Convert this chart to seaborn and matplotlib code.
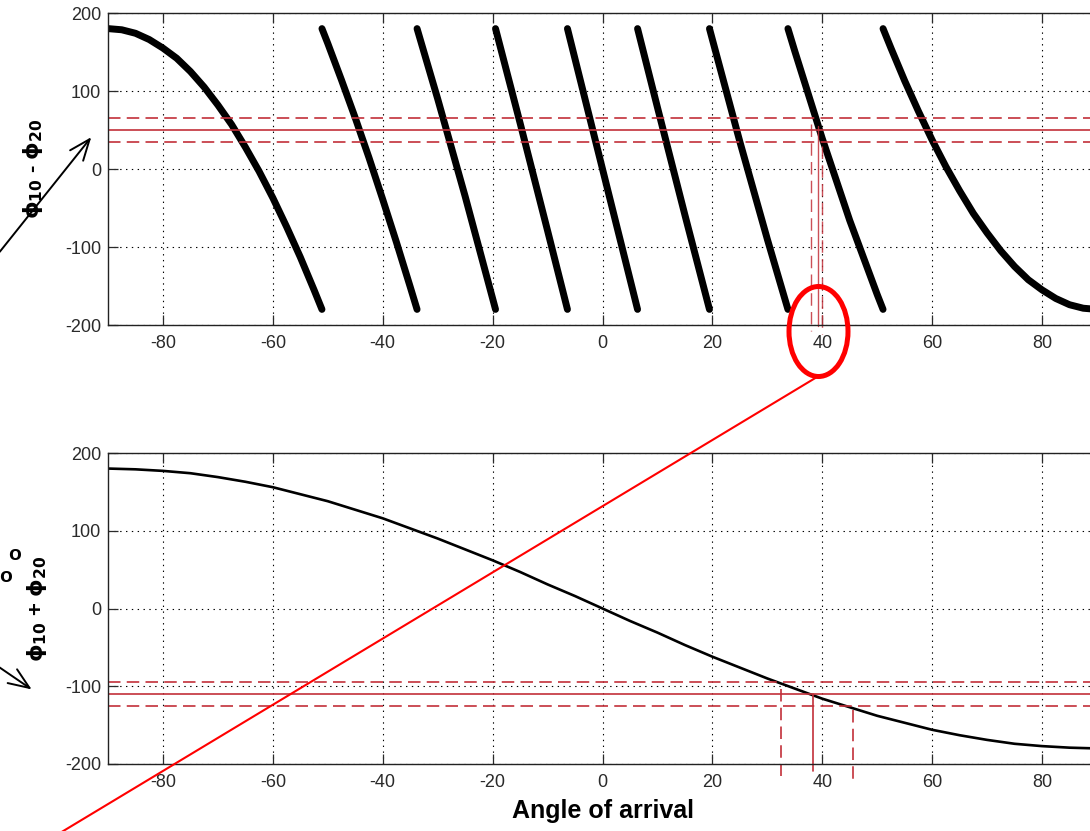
import numpy as np
import pandas as pd
import matplotlib
matplotlib.use("Agg")
import matplotlib.pyplot as plt
from matplotlib.patches import Ellipse, FancyArrowPatch
from matplotlib.lines import Line2D
import seaborn as sns

# ---- data -------------------------------------------------------------
# wrapped phase difference, one branch per 360-degree wrap
diff_angle = [-90, -87.5, -85, -82.5, -80, -77.5, -75, -72.5, -70, -67.5, -65, -62.5,
              -60, -57.5, -55, -52.5, -51.06,
              -51.06, -50, -47.5, -45, -42.5, -40, -37.5, -35, -33.75,
              -33.75, -30, -25, -20, -19.47,
              -19.47, -15, -10, -6.38,
              -6.38, 0, 6.38,
              6.38, 10, 15, 19.47,
              19.47, 20, 25, 30, 33.75,
              33.75, 35, 40, 45, 50, 51.06,
              51.06, 52.5, 55, 57.5, 60, 62.5, 65, 67.5, 70, 72.5, 75, 77.5,
              80, 82.5, 85, 87.5, 90]
diff_phase = [180, 178.5, 174, 166, 155, 142, 125, 105, 82, 57, 28, -3,
              -37, -74, -113, -155, -180,
              180, 161, 114, 65.5, 14.5, -39, -94, -151, -180,
              180, 90, -35, -166, -180,
              180, 59, -79, -180,
              180, 0, -180,
              180, 79, -59, -180,
              180, 166, 35, -90, -180,
              180, 151, 39, -66, -161, -180,
              180, 155, 113, 74, 37, 3, -28, -57, -82, -105, -125, -142,
              -155, -166, -174, -178.5, -180]
diff_branch = ([0] * 17 + [1] * 9 + [2] * 5 + [3] * 4 + [4] * 3 + [5] * 4 +
               [6] * 5 + [7] * 6 + [8] * 17)

# phase sum
sum_angle = list(range(-90, 91, 5))
sum_phase = [180, 179, 177, 174, 169, 163, 156, 147, 138, 127, 116, 103, 90, 76,
             62, 47, 31, 16, 0, -16, -31, -47, -62, -76, -90, -103, -116, -127,
             -138, -147, -156, -163, -169, -174, -177, -179, -180]

# measured phase levels (centre and +/- tolerance) and resulting angle bounds
diff_levels = [65, 50, 35]
diff_cross_angle = [37.9, 39.2, 40.0]
diff_cross_top = [58, 55, 30]
diff_cross_bottom = [-208, -201, -212]

sum_levels = [-95, -110, -125]
sum_cross_angle = [32.4, 38.3, 45.6]
sum_cross_top = [-103, -110, -131]
sum_cross_bottom = [-215, -209, -221]

x_ticks = [-80, -60, -40, -20, 0, 20, 40, 60, 80]
y_ticks = [-200, -100, 0, 100, 200]

# ---- style ------------------------------------------------------------
sns.set_theme(style="white")
plt.rcParams["font.family"] = ["Liberation Sans", "DejaVu Sans"]
plt.rcParams["mathtext.fontset"] = "dejavusans"
plt.rcParams["lines.scale_dashes"] = False
plt.rcParams["axes.unicode_minus"] = False

W, H = 1090, 831
fig = plt.figure(figsize=(W / 100, H / 100), dpi=100)
fig.patch.set_facecolor("white")


def fpos(x, y):
    return (x / W, 1 - y / H)


red = "#c2303a"
dash = (0, (9, 4.5))

ax_top = fig.add_axes([108 / W, 1 - 325 / H, 989 / W, 312 / H])
ax_bot = fig.add_axes([108 / W, 1 - 764 / H, 989 / W, 311 / H])

for ax in (ax_top, ax_bot):
    ax.set_xlim(-90, 90)
    ax.set_ylim(-200, 200)
    ax.set_xticks(x_ticks)
    ax.set_yticks(y_ticks)
    ax.grid(True, color="black", linestyle=(0, (1, 3.2)), linewidth=0.8)
    ax.set_axisbelow(True)
    ax.tick_params(direction="in", length=7, width=0.9, colors="#2a2a2a",
                   labelsize=13, top=True, bottom=True, left=True, right=False)
    ax.tick_params(axis="x", pad=7)
    ax.tick_params(axis="y", pad=5)
    for side, sp in ax.spines.items():
        sp.set_color("#222222")
        sp.set_linewidth(1.0)
        sp.set_visible(side != "right")
    ax.set_facecolor("white")

# top: wrapped phase difference
df_diff = pd.DataFrame({"angle": diff_angle, "phase": diff_phase, "branch": diff_branch})
sns.lineplot(data=df_diff, x="angle", y="phase", units="branch", estimator=None,
             color="black", linewidth=5, sort=False, ax=ax_top, legend=False)

for lvl, ls in zip(diff_levels, [dash, "-", dash]):
    ax_top.axhline(lvl, color=red, linewidth=1.2, linestyle=ls)
for xa, y0, y1, ls in zip(diff_cross_angle, diff_cross_top, diff_cross_bottom,
                          [dash, "-", dash]):
    ax_top.plot([xa, xa], [y0, y1], color=red, linewidth=1.0, linestyle=ls,
                clip_on=False, alpha=0.85)

# bottom: phase sum
df_sum = pd.DataFrame({"angle": sum_angle, "phase": sum_phase})
sns.lineplot(data=df_sum, x="angle", y="phase", color="black", linewidth=1.9,
             ax=ax_bot, legend=False)

for lvl, ls in zip(sum_levels, [dash, "-", dash]):
    ax_bot.axhline(lvl, color=red, linewidth=1.2, linestyle=ls)
for xa, y0, y1, ls in zip(sum_cross_angle, sum_cross_top, sum_cross_bottom,
                          [dash, "-", dash]):
    ax_bot.plot([xa, xa], [y0, y1], color=red, linewidth=1.2, linestyle=ls,
                clip_on=False)

# axis labels
ax_top.set_xlabel("")
ax_bot.set_xlabel("Angle of arrival", fontsize=18, fontweight="bold", color="black",
                  labelpad=6)
ax_top.set_ylabel(r"$\mathbf{\phi_{10}}$ - $\mathbf{\phi_{20}}$", fontsize=16,
                  fontweight="bold", color="black")
ax_bot.set_ylabel(r"$\mathbf{\phi_{10}}$ + $\mathbf{\phi_{20}}$", fontsize=16,
                  fontweight="bold", color="black")
for ax, xc in ((ax_top, 33), (ax_bot, 37)):
    ax.yaxis.set_label_coords((xc - 108) / 989, 0.5)
    ax.yaxis.label.set_va("center")
    ax.yaxis.label.set_rotation_mode("default")

# degree marks beside the lower label
fig.text(*fpos(15, 555), "o", fontsize=15, fontweight="bold", ha="center",
         va="center", color="black")
fig.text(*fpos(5.5, 576), "o", fontsize=15, fontweight="bold", ha="center",
         va="center", color="black")

# pointer arrows towards the two labels
fig.add_artist(FancyArrowPatch(fpos(-2, 254), fpos(93, 135), transform=fig.transFigure,
                               arrowstyle="->,head_length=0.75,head_width=0.3",
                               mutation_scale=20, color="black", linewidth=1.4))
fig.add_artist(FancyArrowPatch(fpos(-4, 665), fpos(34, 691), transform=fig.transFigure,
                               arrowstyle="->,head_length=0.75,head_width=0.3",
                               mutation_scale=20, color="black", linewidth=1.4))

# highlight of the ambiguous crossing and link to the lower panel
fig.add_artist(Ellipse(fpos(818.5, 331.5), 59 / W, 90 / H, transform=fig.transFigure,
                       fill=False, edgecolor="red", linewidth=3.6))
fig.add_artist(Line2D([817 / W, 50 / W], [1 - 377 / H, 1 - 839 / H],
                      transform=fig.transFigure, color="red", linewidth=1.5))

fig.savefig("out.png", dpi=100, facecolor="white")
